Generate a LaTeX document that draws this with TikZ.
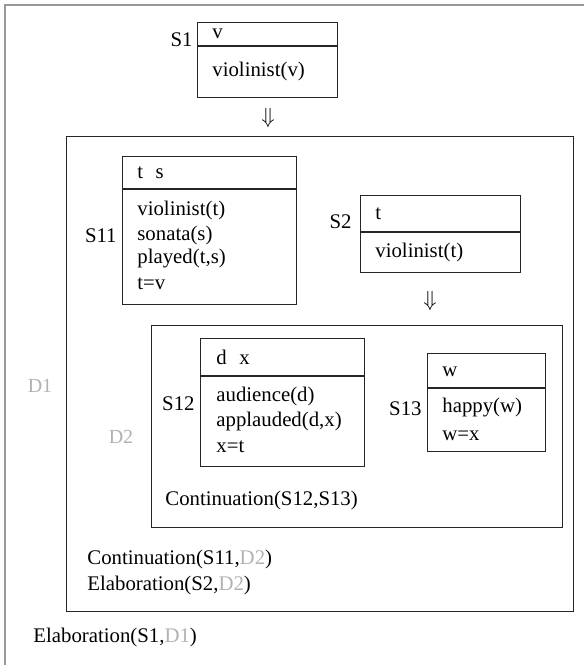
\documentclass[tikz,border=0pt]{standalone}
\usepackage{fontspec}
\usepackage{amssymb}
\setmainfont{Liberation Serif}
\begin{document}
\begin{tikzpicture}[x=0.5pt,y=-0.5pt,
  frame/.style={draw=black!85,line width=0.6pt},
  drsbox/.style={frame,anchor=north west,inner sep=0pt},
  txt/.style={anchor=west,inner sep=0pt,font=\fontsize{10.4}{12}\selectfont},
  lbl/.style={txt,anchor=east},
  ghost/.style={anchor=center,inner sep=0pt,text=black!30,font=\fontsize{10}{12}\selectfont},
  rel/.style={anchor=center,inner sep=0pt,font=\fontsize{11}{13}\selectfont}]
\useasboundingbox (0,0) rectangle (584,665);
% outer frame: only its top and left edges fall inside the picture
\draw[black!40,line width=0.6pt] (584,5) -- (5,5) -- (5,665);

% S1
\node[drsbox,minimum width=70pt,minimum height=37.5pt] (s1) at (197,22) {};
\draw[frame] (197,46) -- (337,46);
\node[lbl] (s1l) at (193,40) {S1};
\node[txt] (s1u) at (212,34) {v};
\node[txt] (s1c) at (212,71) {violinist(v)};
\node[rel] (a1) at (268,118) {$\Downarrow$};

% D1
\node[drsbox,minimum width=253.5pt,minimum height=237.5pt] (d1) at (66,136) {};
\node[ghost] (d1l) at (40,386) {D1};

% S11
\node[drsbox,minimum width=87pt,minimum height=74pt] (s11) at (122,156) {};
\draw[frame] (122,189) -- (296,189);
\node[lbl] (s11l) at (117,236) {S11};
\node[txt] (s11u) at (137,173) {t\hspace{0.6em}s};
\node[txt] (s11a) at (137,210) {violinist(t)};
\node[txt] (s11b) at (137,235) {sonata(s)};
\node[txt] (s11c) at (137,259) {played(t,s)};
\node[txt] (s11d) at (137,284) {t=v};

% S2
\node[drsbox,minimum width=80pt,minimum height=38.5pt] (s2) at (360,195) {};
\draw[frame] (360,232) -- (520,232);
\node[lbl] (s2l) at (352,222) {S2};
\node[txt] (s2u) at (375,214) {t};
\node[txt] (s2c) at (375,252) {violinist(t)};
\node[rel] (a2) at (430,301) {$\Downarrow$};

% D2
\node[drsbox,minimum width=205.5pt,minimum height=101pt] (d2) at (151,325) {};
\node[ghost] (d2l) at (121,437) {D2};

% S12
\node[drsbox,minimum width=82pt,minimum height=64pt] (s12) at (200,338) {};
\draw[frame] (200,376) -- (364,376);
\node[lbl] (s12l) at (195,404) {S12};
\node[txt] (s12u) at (216,357) {d\hspace{0.6em}x};
\node[txt] (s12a) at (216,396) {audience(d)};
\node[txt] (s12b) at (216,421) {applauded(d,x)};
\node[txt] (s12c) at (216,447) {x=t};

% S13
\node[drsbox,minimum width=59pt,minimum height=49pt] (s13) at (427,353) {};
\draw[frame] (427,388) -- (545,388);
\node[lbl] (s13l) at (422,409) {S13};
\node[txt] (s13u) at (442,372) {w};
\node[txt] (s13a) at (442,408) {happy(w)};
\node[txt] (s13b) at (442,436) {w=x};

% discourse relations
\node[txt] (r1) at (165,500) {Continuation(S12,S13)};
\node[txt] (r2) at (87,559) {Continuation(S11,\textcolor{black!30}{D2})};
\node[txt] (r3) at (87,585) {Elaboration(S2,\textcolor{black!30}{D2})};
\node[txt] (r4) at (33,637) {Elaboration(S1,\textcolor{black!30}{D1})};
\end{tikzpicture}
\end{document}
